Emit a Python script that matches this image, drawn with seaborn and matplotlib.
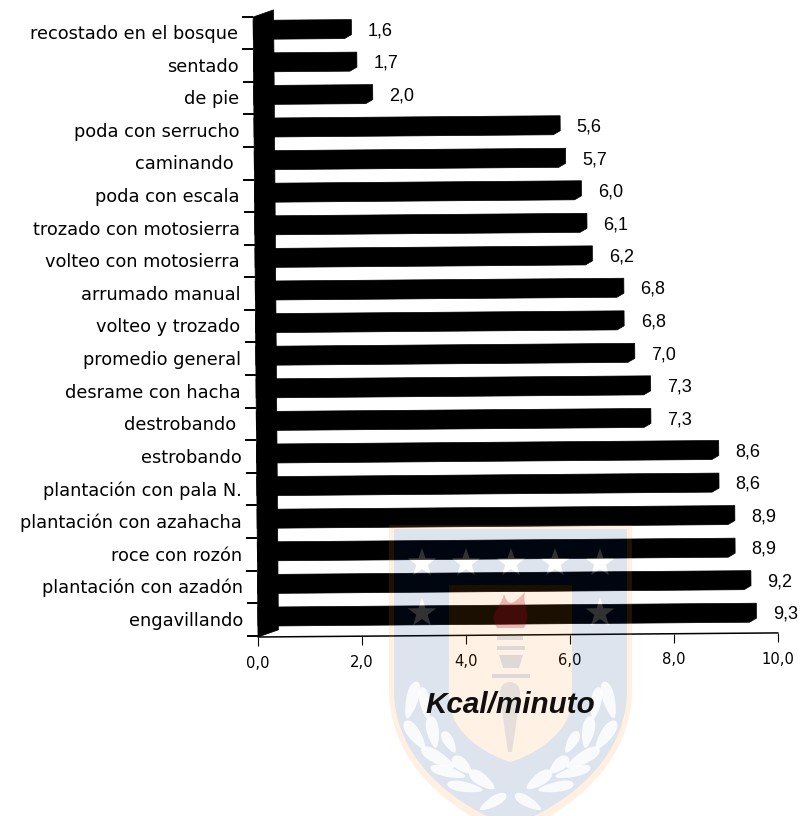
import numpy as np
import pandas as pd
import matplotlib
matplotlib.use("Agg")
import matplotlib.pyplot as plt
import seaborn as sns
from matplotlib.path import Path
from matplotlib.patches import PathPatch, Polygon
from matplotlib.transforms import Affine2D

# Energy expenditure per forestry task
actividades = [
    "recostado en el bosque", "sentado", "de pie", "poda con serrucho",
    "caminando ", "poda con escala", "trozado con motosierra",
    "volteo con motosierra", "arrumado manual", "volteo y trozado",
    "promedio general", "desrame con hacha", "destrobando ", "estrobando",
    "plantación con pala N.", "plantación con azahacha", "roce con rozón",
    "plantación con azadón", "engavillando",
]
kcal_minuto = [1.6, 1.7, 2.0, 5.6, 5.7, 6.0, 6.1, 6.2, 6.8, 6.8,
               7.0, 7.3, 7.3, 8.6, 8.6, 8.9, 8.9, 9.2, 9.3]
marcas_x = [0, 2, 4, 6, 8, 10]

W, H = 803, 816
sns.set_theme(style="white")
plt.rcParams["font.family"] = ["Liberation Sans", "DejaVu Sans"]

fig = plt.figure(figsize=(W / 100, H / 100), dpi=100, facecolor="white")

# Plot area in pixels
left, right, top, bottom = 258, 778, 10, 637
ax = fig.add_axes([left / W, 1 - bottom / H, (right - left) / W, (bottom - top) / H])
ax.set_facecolor("none")

df = pd.DataFrame({"actividad": actividades, "kcal": kcal_minuto})
sns.barplot(data=df, y="actividad", x="kcal", color="black", saturation=1,
            width=0.46, orient="h", ax=ax, zorder=3)

paso_y = 32.6
ax.set_xlim(0, 10)
ax.set_ylim(18.564, -0.669)
y_min, y_max = ax.get_ylim()
px_x = (right - left) / 10

# The whole chart sits very slightly rotated on the page
tilt = Affine2D().rotate_deg_around(left, H - bottom, 0.45)
t_data = ax.transData + tilt

# Bars: flat front plus a pseudo-3D end cap
front_dx, back_dx, depth_up = 8 / px_x, 15 / px_x, 4 / paso_y
for bar in ax.patches:
    x, y, w, h = bar.get_x(), bar.get_y(), bar.get_width(), bar.get_height()
    b = y + h
    bar.set_width(w + front_dx)
    bar.set_transform(t_data)
    ax.add_patch(Polygon(
        [(0, b), (w + front_dx, b), (w + back_dx, b - depth_up),
         (w + back_dx, y - depth_up), (0, y - depth_up)],
        closed=True, fc="black", ec="black", lw=0.5, transform=t_data, zorder=3,
        clip_on=False))

# Side wall of the 3D frame
wall_dx, wall_up = 20.5 / px_x, 7 / paso_y
ax.add_patch(Polygon(
    [(0, y_min), (wall_dx, y_min - wall_up), (wall_dx, y_max), (0, y_max + wall_up)],
    closed=True, fc="black", ec="black", lw=0.5, transform=t_data, zorder=4, clip_on=False))

# Value labels, decimal comma
for i, v in enumerate(kcal_minuto):
    ax.text(v, i, f"{v:.1f}".replace(".", ","), ha="center", va="center",
            fontsize=13, color="black", zorder=6,
            transform=ax.transData + Affine2D().translate(44, 0) + tilt)

# Base line of the frame
ax.plot([0, 10], [y_min, y_min], color="black", lw=1.1, transform=t_data,
        clip_on=False, zorder=2)

# Axes
sns.despine(ax=ax, left=True, bottom=True, top=True, right=True)
ax.set_yticks(range(len(actividades)))
ax.set_yticklabels(actividades)
ax.set_yticks(np.arange(len(actividades) + 1) - 0.47, minor=True)
ax.set_xticks(marcas_x)
ax.set_xticklabels([f"{m:.1f}".replace(".", ",") for m in marcas_x])
ax.tick_params(axis="y", which="major", length=0, pad=10.8, labelsize=12.8,
               labelcolor="black", labelfontfamily="DejaVu Sans")
ax.tick_params(axis="y", which="minor", left=True, length=8, width=1.4, color="black")
ax.tick_params(axis="x", which="major", bottom=True, length=6.5, width=0.8, color="black",
               pad=7, labelsize=10.6, labelcolor="black", labelfontfamily="DejaVu Sans")
ax.set_ylabel("")
ax.set_xlabel("")

for tick in (ax.yaxis.get_major_ticks() + ax.yaxis.get_minor_ticks()
             + ax.xaxis.get_major_ticks()):
    for art in (tick.label1, tick.tick1line):
        art.set_transform(art.get_transform() + tilt)

# Axis title sits above the crest
fig.supxlabel("Kcal/minuto", x=510 / W, y=1 - 705 / H, ha="center", va="center",
              fontsize=21.3, fontweight="bold", fontstyle="italic", color="#101010",
              zorder=10)

# University crest printed faintly behind the page, in page pixels
page = Affine2D().scale(1, -1).translate(0, H)


def bez(p0, p1, p2, p3, n=40):
    u = np.linspace(0, 1, n)[:, None]
    p0, p1, p2, p3 = map(np.asarray, (p0, p1, p2, p3))
    return (1 - u) ** 3 * p0 + 3 * (1 - u) ** 2 * u * p1 + 3 * (1 - u) * u ** 2 * p2 + u ** 3 * p3


def shield(x0, x1, y0, y_side, y_tip):
    xc = (x0 + x1) / 2
    w = x1 - x0
    right_side = bez((x1, y_side), (x1, y_side + (y_tip - y_side) * 0.55),
                     (xc + w * 0.2, y_tip - (y_tip - y_side) * 0.12), (xc, y_tip))
    left_side = bez((xc, y_tip), (xc - w * 0.2, y_tip - (y_tip - y_side) * 0.12),
                    (x0, y_side + (y_tip - y_side) * 0.55), (x0, y_side))
    return np.vstack([[(x0, y0), (x1, y0)], right_side, left_side])


def star(cx, cy, r):
    ang = np.deg2rad(-90 + 36 * np.arange(10))
    rad = np.where(np.arange(10) % 2 == 0, r, r * 0.4)
    return np.column_stack([cx + rad * np.cos(ang), cy + rad * np.sin(ang)])


def area(p):
    x, y = p[:, 0], p[:, 1]
    return 0.5 * np.sum(x * np.roll(y, -1) - y * np.roll(x, -1))


def compound(outer, holes=()):
    verts, codes = [], []
    for k, poly in enumerate([outer] + list(holes)):
        poly = np.asarray(poly)
        want_positive = k == 0
        if (area(poly) > 0) != want_positive:
            poly = poly[::-1]
        verts += [poly, poly[:1]]
        codes += [Path.MOVETO] + [Path.LINETO] * (len(poly) - 1) + [Path.CLOSEPOLY]
    return Path(np.vstack(verts), codes)


def overlay(path, color, alpha, z=8):
    fig.add_artist(PathPatch(path, fc=color, ec="none", alpha=alpha, transform=page, zorder=z))


outer = shield(389, 632, 525, 690, 835)
inner = shield(394, 627, 529, 690, 826)
panel = shield(449, 572, 585, 697, 762)
star_pts = [(422, 563), (466, 563), (511, 563), (555, 563), (600, 563), (422, 613), (600, 613)]
stars = [star(x, y, 15) for x, y in star_pts]

tint_blue, tint_cream = (0.0, 0.2, 0.5), (1.0, 0.55, 0.1)
overlay(compound(outer, [inner]), tint_cream, 0.13)
overlay(compound(inner, [panel] + stars), tint_blue, 0.13)
overlay(compound(panel), tint_cream, 0.11)
for s in stars:
    overlay(compound(s), "white", 0.2)

# Flame and torch
flame = np.vstack([bez((497, 628), (488, 612), (500, 610), (504, 594)),
                   bez((504, 594), (508, 606), (512, 606), (525, 592)),
                   bez((525, 592), (522, 606), (532, 614), (524, 628))])
overlay(compound(flame), (0.7, 0.0, 0.1), 0.25)
torch_parts = [
    [(497, 636), (523, 636), (523, 640), (497, 640)],
    [(497, 646), (525, 646), (525, 650), (497, 650)],
    [(499, 655), (523, 655), (519, 668), (503, 668)],
    [(492, 674), (530, 674), (530, 678), (492, 678)],
]
for part in torch_parts:
    overlay(compound(np.array(part, float)), tint_blue, 0.13, z=9)
th = np.linspace(np.pi, 2 * np.pi, 30)
bulb = np.vstack([np.column_stack([510 + 10 * np.cos(th), 692 + 10 * np.sin(th)]),
                  [(520, 694), (516, 725), (512, 752), (508, 752), (504, 725), (500, 694)]])
overlay(compound(bulb), tint_blue, 0.1, z=9)

# Laurel wreath, mirrored about the crest axis
hojas = [(412, 700, 6, 19, 15), (425, 703, 5, 16, -10), (415, 735, 6, 17, -35),
         (433, 732, 6, 16, -10), (449, 742, 5, 12, -30), (438, 758, 6, 19, -60),
         (462, 765, 6, 12, -50), (448, 772, 5, 18, -75), (482, 780, 6, 15, -55),
         (465, 787, 5, 18, -80), (493, 802, 5, 15, 60)]
th = np.linspace(0, 2 * np.pi, 30)
for cx, cy, a, b, ang in hojas:
    for sign in (1, -1):
        r = np.deg2rad(ang)
        ex = a * np.cos(th) * (1 - 0.3 * np.sin(th))
        ey = b * np.sin(th)
        px = ex * np.cos(r) - ey * np.sin(r)
        py = ex * np.sin(r) + ey * np.cos(r)
        xs = cx + px if sign == 1 else 2 * 510.5 - (cx + px)
        overlay(compound(np.column_stack([xs, cy + py])), "white", 0.85, z=9)

fig.savefig("out.png", dpi=100)
